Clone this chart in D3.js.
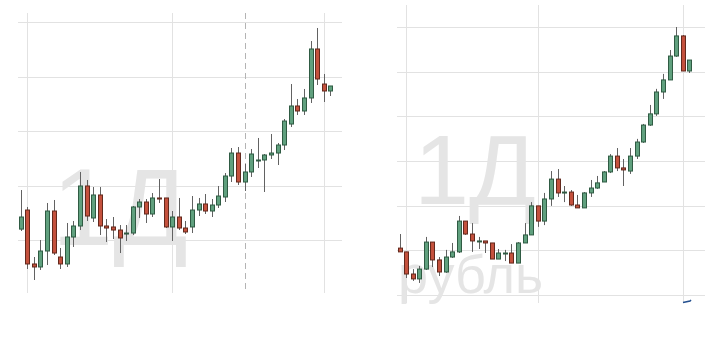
<!DOCTYPE html>
<html>
<head>
<meta charset="utf-8">
<script src="https://cdn.jsdelivr.net/npm/d3@7"></script>
<style>
  body { margin: 0; background: #fff; }
  svg { display: block; }
  .grid line { stroke: #e2e2e2; stroke-width: 1; }
  .wm { font-family: "Liberation Sans", Arial, sans-serif; fill: #e5e5e5; }
</style>
</head>
<body>
<svg id="chart" width="726" height="362"></svg>
<script>
// left panel: daily candles, open / high / low / close
const leftOpen  = [102.0,105.5,95.6,95.05,97.98,105.32,96.88,95.6,100.55,102.57,109.91,104.04,108.26,102.57,102.39,101.83,101.1,101.28,106.06,106.97,104.77,107.71,107.71,102.39,
                   104.22,102.2,102.39,105.5,106.61,105.32,106.42,107.89,111.74,115.96,110.64,112.48,114.5,114.68,115.6,115.96,117.43,121.28,124.59,123.67,126.06,135.05,128.62,127.34];
const leftHigh  = [109.17,106.06,96.88,100.0,106.79,107.34,98.53,103.12,103.49,112.48,111.01,109.72,109.72,103.85,104.22,102.75,102.75,106.24,107.52,107.52,108.62,111.19,107.71,105.32,
                   107.71,103.49,108.07,107.71,108.44,107.52,109.91,112.29,116.88,117.06,113.94,116.7,118.72,115.78,119.45,117.8,122.2,128.62,125.87,127.71,136.51,138.9,130.46,128.26];
const leftLow   = [101.65,94.68,92.66,94.5,95.41,97.25,94.68,95.05,98.72,101.83,103.49,103.3,100.92,99.63,100.18,97.61,99.82,100.92,104.04,103.12,104.22,106.79,102.2,99.82,
                   101.83,101.1,101.28,104.4,104.77,104.22,105.87,106.97,110.64,110.09,108.99,111.56,113.21,108.81,114.86,113.76,116.51,120.73,122.94,122.94,125.14,128.44,125.32,126.42];
const leftClose = [104.22,95.6,95.05,97.98,105.32,97.61,95.6,100.55,102.57,109.91,104.4,108.26,102.57,102.2,101.83,100.37,101.28,106.06,106.97,104.77,107.71,107.52,102.39,104.22,
                   102.2,101.47,105.5,106.61,105.32,106.42,108.07,111.74,115.96,110.64,112.48,115.78,114.68,115.6,115.96,117.43,121.83,124.59,123.67,126.06,135.05,129.54,127.34,128.26];
const leftTicks = [100, 110, 120, 130, 140];
const leftMonthIdx = [1, 23, 46];   // candles under the vertical grid lines
const leftMarkIdx = 34;             // dashed marker line

// right panel
const rightOpen  = [72.1,71.93,70.94,70.72,71.16,72.37,71.57,71.03,71.7,71.93,73.31,72.73,72.4,72.42,72.33,71.61,71.86,71.88,71.43,72.33,72.69,73.99,73.31,74.3,
                    75.19,74.57,74.61,74.03,73.9,74.57,74.79,75.06,75.51,76.22,75.69,75.55,76.22,76.85,77.61,78.11,79.09,79.63,80.7,81.6,80.03];
const rightHigh  = [72.73,71.93,71.16,71.3,72.6,72.37,71.7,72.02,72.33,73.54,73.31,73.22,72.6,72.42,72.33,72.06,72.02,72.28,72.37,73.22,74.16,73.99,74.57,75.55,
                    75.64,74.88,74.7,74.48,74.61,75.15,75.33,75.55,76.31,76.58,76.09,76.58,76.99,77.66,78.51,79.23,79.9,80.97,82.0,81.64,80.52];
const rightLow   = [71.93,70.76,70.63,70.54,71.12,71.25,70.85,70.99,71.66,71.88,72.69,71.93,72.06,71.88,71.61,71.61,71.52,71.43,71.43,72.33,72.69,73.05,73.13,73.99,
                    74.39,74.16,73.99,73.9,73.9,74.39,74.75,75.06,75.46,75.55,74.88,75.42,76.09,76.81,77.57,78.02,78.78,79.63,80.66,80.03,79.94];
const rightClose = [71.93,70.94,70.72,71.16,72.37,71.57,71.03,71.7,71.93,73.31,72.73,72.42,72.42,72.33,71.61,71.88,71.88,71.43,72.33,72.69,73.99,73.31,74.3,75.19,
                    74.57,74.61,74.03,73.9,74.57,74.79,75.02,75.51,76.22,75.69,75.6,76.22,76.85,77.61,78.11,79.09,79.63,80.7,81.6,80.03,80.52];
const rightTicks = [70, 72, 74, 76, 78, 80, 82];
const rightMonthIdx = [1, 21, 43];

const svg = d3.select("#chart");

function drawPanel(p) {
    const n = p.open.length;
    const x = d3.scaleLinear().domain([0, n - 1]).range(p.xRange);
    const y = d3.scaleLinear().domain(p.yDomain).range(p.yRange);
    const g = svg.append("g");

    // grid lines
    const grid = g.append("g").attr("class", "grid");
    grid.selectAll("line.h").data(p.ticks).enter().append("line")
        .attr("x1", p.gridX[0]).attr("x2", p.gridX[1])
        .attr("y1", d => Math.round(y(d)) + 0.5).attr("y2", d => Math.round(y(d)) + 0.5);
    grid.selectAll("line.v").data(p.monthIdx).enter().append("line")
        .attr("x1", d => Math.round(x(d)) + 0.5).attr("x2", d => Math.round(x(d)) + 0.5)
        .attr("y1", p.gridY[0]).attr("y2", p.gridY[1]);

    // watermark
    p.watermark.forEach(w => {
        g.append("text").attr("class", "wm")
            .attr("x", w.x).attr("y", w.y)
            .attr("font-size", w.size)
            .text(w.text);
    });

    if (p.markIdx != null) {
        g.append("line")
            .attr("x1", Math.round(x(p.markIdx)) + 0.5).attr("x2", Math.round(x(p.markIdx)) + 0.5)
            .attr("y1", p.gridY[0]).attr("y2", p.gridY[1])
            .attr("stroke", "#b4b4b4").attr("stroke-dasharray", "6,4");
    }

    const idx = d3.range(n);
    const candles = g.append("g");
    // wicks
    candles.selectAll("line.wick").data(idx).enter().append("line")
        .attr("x1", i => Math.round(x(i) - 2) + 2.5)
        .attr("x2", i => Math.round(x(i) - 2) + 2.5)
        .attr("y1", i => y(p.high[i]))
        .attr("y2", i => y(p.low[i]))
        .attr("stroke", "#626262").attr("stroke-width", 1);
    // bodies
    candles.selectAll("rect").data(idx).enter().append("rect")
        .attr("x", i => Math.round(x(i) - 2) + 0.5)
        .attr("width", 4)
        .attr("y", i => y(Math.max(p.open[i], p.close[i])))
        .attr("height", i => Math.max(1, Math.abs(y(p.open[i]) - y(p.close[i]))))
        .attr("fill", i => p.close[i] >= p.open[i] ? "#60a07e" : "#c4513d")
        .attr("stroke", i => p.close[i] >= p.open[i] ? "#2f5b43" : "#63291d")
        .attr("stroke-width", 1);
}

drawPanel({
    open: leftOpen, high: leftHigh, low: leftLow, close: leftClose,
    ticks: leftTicks, monthIdx: leftMonthIdx, markIdx: leftMarkIdx,
    xRange: [20.7, 330.3], yDomain: [100, 140], yRange: [240, 22],
    gridX: [18, 342], gridY: [13, 293],
    watermark: [{ text: "1Д", x: 52, y: 245, size: 110 }]
});

drawPanel({
    open: rightOpen, high: rightHigh, low: rightLow, close: rightClose,
    ticks: rightTicks, monthIdx: rightMonthIdx, markIdx: null,
    xRange: [399.5, 689.3], yDomain: [70, 82], yRange: [295, 27],
    gridX: [397, 705], gridY: [5, 303],
    watermark: [{ text: "1Д", x: 414, y: 204, size: 99 },
                { text: "рубль", x: 398, y: 293, size: 54 }]
});

// small blue tick at the bottom of the right panel
svg.append("path")
    .attr("d", "M683,302.5 L690,301 L691,300")
    .attr("fill", "none").attr("stroke", "#24508f").attr("stroke-width", 1.6);
</script>
</body>
</html>
